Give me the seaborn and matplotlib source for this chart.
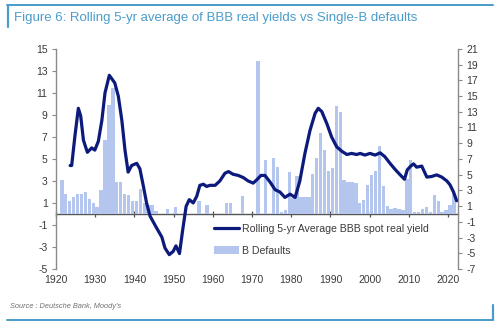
import numpy as np
import pandas as pd
import matplotlib
matplotlib.use("Agg")
import matplotlib.pyplot as plt
from matplotlib.lines import Line2D
from matplotlib.patches import Patch
import seaborn as sns

# Single-B default rate by year (%), right axis
default_years = list(range(1920, 2022))
default_rates = [
    0.0, 4.3, 2.6, 1.6, 2.2, 2.6, 2.5, 2.8, 1.9, 1.4,    # 1920s
    0.9, 3.0, 9.4, 13.9, 16.0, 4.1, 4.1, 2.6, 2.4, 1.6,  # 1930s
    1.7, 3.2, 1.4, 1.1, 1.2, 0.4, 0.0, 0.0, 0.6, 0.0,    # 1940s
    0.9, 0.0, 0.0, 0.0, 0.0, 0.0, 1.6, 0.0, 1.1, 0.0,    # 1950s
    0.0, 0.0, 0.0, 1.4, 1.4, 0.0, 0.0, 2.3, 0.0, 0.0,    # 1960s
    0.0, 19.4, 0.0, 6.8, 0.0, 7.1, 6.0, 0.3, 0.5, 5.3,   # 1970s
    2.0, 4.8, 2.2, 2.2, 2.2, 5.1, 7.1, 10.3, 8.1, 5.4,   # 1980s
    5.8, 13.7, 13.0, 4.3, 4.1, 4.1, 3.9, 1.4, 1.8, 3.7,  # 1990s
    5.0, 5.4, 8.7, 3.5, 1.0, 0.6, 0.7, 0.6, 0.5, 4.5,    # 2000s
    6.8, 0.3, 0.3, 0.6, 0.9, 0.3, 2.4, 1.6, 0.3, 0.5,    # 2010s
    1.1, 2.5,                                            # 2020s
]

# Rolling 5-yr average BBB spot real yield (%), left axis
yield_dates = [
    1923.6, 1924.0, 1924.8, 1925.7, 1926.3, 1927.0, 1928.0, 1929.1, 1929.9, 1930.8,
    1931.7, 1932.5, 1933.6, 1934.2, 1935.0, 1935.9, 1936.8, 1937.6, 1938.4, 1939.3,
    1940.6, 1941.4, 1942.3, 1943.1, 1944.0, 1945.7, 1947.0, 1947.8, 1948.9, 1949.9,
    1950.6, 1951.5, 1952.3, 1953.2, 1954.0, 1955.0, 1955.9, 1956.7, 1957.6, 1958.4,
    1959.3, 1960.6, 1961.8, 1963.1, 1964.0, 1965.2, 1966.5, 1967.8, 1969.0, 1970.3,
    1971.2, 1972.3, 1973.3, 1974.6, 1975.9, 1977.1, 1978.4, 1979.7, 1981.0, 1982.2,
    1983.5, 1984.8, 1986.1, 1986.9, 1987.8, 1989.1, 1990.3, 1991.6, 1992.9, 1994.2,
    1995.4, 1996.7, 1997.6, 1998.8, 2000.1, 2001.4, 2002.7, 2003.9, 2005.2, 2006.5,
    2007.8, 2008.9, 2009.6, 2010.5, 2011.2, 2012.0, 2013.3, 2014.6, 2015.8, 2017.1,
    2018.4, 2019.7, 2020.5, 2021.4, 2022.2,
]
yield_values = [
    4.4, 4.4, 7.0, 9.6, 8.9, 6.7, 5.6, 6.0, 5.8, 6.6,
    8.5, 11.0, 12.6, 12.3, 11.9, 10.7, 8.5, 5.8, 3.8, 4.4,
    4.6, 4.1, 2.5, 1.0, -0.2, -1.3, -2.1, -3.1, -3.7, -3.4,
    -2.9, -3.6, -1.5, 0.7, 1.3, 1.0, 1.6, 2.6, 2.7, 2.5,
    2.6, 2.6, 3.0, 3.7, 3.85, 3.6, 3.5, 3.3, 3.0, 2.8,
    3.1, 3.5, 3.5, 2.9, 2.2, 2.0, 1.5, 1.8, 1.5, 3.0,
    5.5, 7.6, 9.15, 9.6, 9.3, 8.2, 7.0, 6.1, 5.7, 5.4,
    5.5, 5.4, 5.5, 5.35, 5.5, 5.35, 5.55, 5.2, 4.6, 4.05,
    3.55, 3.15, 4.0, 4.35, 4.55, 4.25, 4.35, 3.35, 3.4, 3.55,
    3.35, 3.0, 2.65, 2.0, 1.2,
]

x_ticks = list(range(1920, 2021, 10))
left_ticks = list(range(-5, 16, 2))
right_ticks = list(range(-7, 22, 2))

line_label = "Rolling 5-yr Average BBB spot real yield"
bar_label = "B Defaults"
title = "Figure 6: Rolling 5-yr average of BBB real yields vs Single-B defaults"
source = "Source : Deutsche Bank, Moody's"

LINE_C = "#0c1a7c"
BAR_C = "#b4c6ee"
FRAME_C = "#4a9ccb"
AXIS_C = "#8a8a8a"
TEXT_C = "#3a3a3a"

sns.set_theme(style="white")
plt.rcParams["font.family"] = ["Liberation Sans", "DejaVu Sans"]
plt.rcParams["axes.unicode_minus"] = False

bars = pd.DataFrame({"year": np.array(default_years) + 0.5, "rate": default_rates})
line = pd.DataFrame({"date": yield_dates, "value": yield_values})

fig = plt.figure(figsize=(5.0, 3.28), dpi=100)
ax_b = fig.add_axes([0.112, 0.180, 0.804, 0.671])

# bars on the primary axes (right-hand scale)
sns.barplot(data=bars, x="year", y="rate", native_scale=True, color=BAR_C,
            width=0.85, saturation=1, ax=ax_b, edgecolor="none")
ax_b.set_xlim(1920, 2022.55)
ax_b.set_ylim(-7, 21)
ax_b.set_xlabel("")
ax_b.set_ylabel("")

# line on a twin axes (left-hand scale)
ax_l = ax_b.twinx()
sns.lineplot(data=line, x="date", y="value", color=LINE_C, lw=2.3, ax=ax_l,
             solid_capstyle="round", solid_joinstyle="round")
ax_l.set_ylim(-5, 15)
ax_l.set_ylabel("")
ax_l.set_xlabel("")

# put each scale on its own side
ax_b.set_yticks(right_ticks)
ax_b.yaxis.tick_right()
ax_l.set_yticks(left_ticks)
ax_l.yaxis.tick_left()

for a in (ax_b, ax_l):
    a.set_facecolor("none")
    for s in a.spines.values():
        s.set_visible(False)
    a.grid(False)

ax_b.spines["right"].set_visible(True)
ax_b.spines["right"].set_color(AXIS_C)
ax_b.spines["right"].set_linewidth(1.0)
ax_l.spines["left"].set_visible(True)
ax_l.spines["left"].set_color(AXIS_C)
ax_l.spines["left"].set_linewidth(1.0)

ax_b.tick_params(axis="y", right=True, left=False, labelright=True, labelleft=False,
                 direction="out", length=3, width=0.8, color=AXIS_C,
                 labelsize=7.5, labelcolor=TEXT_C, pad=3)
ax_l.tick_params(axis="y", left=True, right=False, labelleft=True, labelright=False,
                 direction="out", length=3, width=0.8, color=AXIS_C,
                 labelsize=7.5, labelcolor=TEXT_C, pad=3)

# year labels along the bottom, tick marks on the zero line
ax_b.set_xticks(x_ticks)
ax_b.tick_params(axis="x", bottom=True, length=0, labelsize=7.5,
                 labelcolor=TEXT_C, pad=4)
zero_axis = ax_b.secondary_xaxis(0.25)
zero_axis.set_xticks(x_ticks)
zero_axis.set_xticklabels([])
zero_axis.tick_params(axis="x", direction="inout", length=5, width=0.9, color="#555555")
zero_axis.spines["bottom"].set_color("#555555")
zero_axis.spines["bottom"].set_linewidth(1.0)

handles = [Line2D([0], [0], color=LINE_C, lw=2.3),
           Patch(facecolor=BAR_C, edgecolor="none")]
fig.legend(handles, [line_label, bar_label], loc="upper left",
           bbox_to_anchor=(0.428, 0.318), frameon=False, fontsize=7.6,
           handlelength=2.4, handletextpad=0.3, labelspacing=1.15,
           borderpad=0, borderaxespad=0, labelcolor=TEXT_C)

# header and footer
fig.text(0.027, 1 - 18 / 328, title, fontsize=9.5, color=FRAME_C,
         ha="left", va="center")
fig.text(0.02, 1 - 307 / 328, source, fontsize=5.3, style="italic",
         color="#707070", ha="left", va="center")
fig.add_artist(Line2D([7 / 500, 493 / 500], [1 - 5 / 328] * 2, color=FRAME_C, lw=1.4))
fig.add_artist(Line2D([7.5 / 500] * 2, [1 - 5 / 328, 1 - 27 / 328], color=FRAME_C, lw=1.6))
fig.add_artist(Line2D([7 / 500, 493 / 500], [1 - 320 / 328] * 2, color=FRAME_C, lw=1.4))
fig.add_artist(Line2D([492.5 / 500] * 2, [1 - 305 / 328, 1 - 320 / 328], color=FRAME_C, lw=1.6))

fig.savefig("out.png", dpi=100, facecolor="white")
